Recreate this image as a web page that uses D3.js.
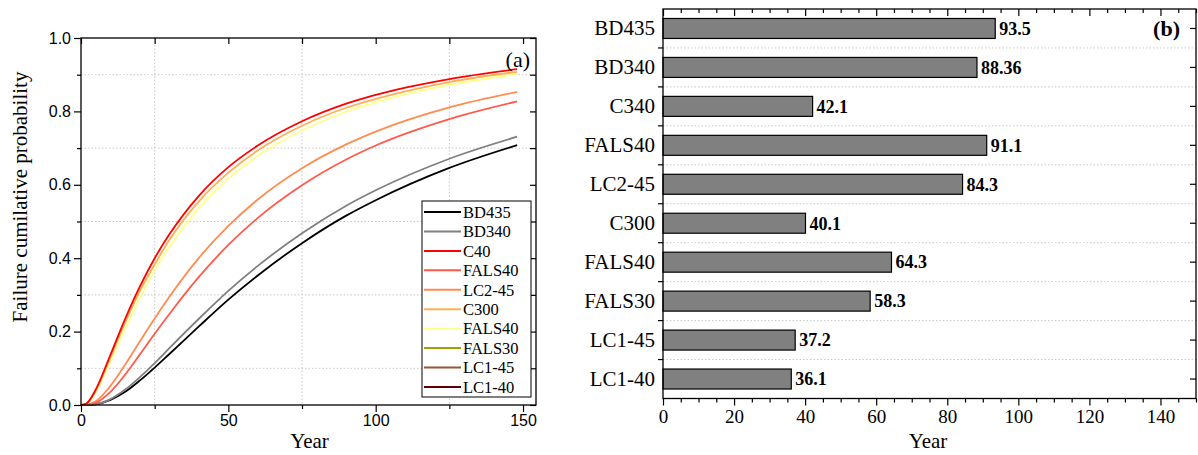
<!DOCTYPE html>
<html><head><meta charset="utf-8">
<script src="https://cdn.jsdelivr.net/npm/d3@7"></script>
<style>
html,body{margin:0;padding:0;background:#fff;}
svg{display:block;}
</style></head>
<body>
<svg id="chart" width="1198" height="455"></svg>
<script>
// ---------- Data: panel (a) ----------
const years   = [0, 2, 5, 10, 15, 20, 25, 30, 40, 50, 60, 75, 90, 100, 125, 148];
const bd435   = [0, 0.0001, 0.002, 0.014, 0.036, 0.067, 0.102, 0.139, 0.214, 0.287, 0.353, 0.441, 0.516, 0.558, 0.646, 0.708];
const bd340   = [0, 0.0001, 0.002, 0.016, 0.042, 0.076, 0.114, 0.155, 0.235, 0.311, 0.379, 0.468, 0.543, 0.585, 0.671, 0.731];
const c40     = [0, 0.005, 0.042, 0.137, 0.235, 0.323, 0.400, 0.465, 0.570, 0.648, 0.707, 0.773, 0.821, 0.845, 0.888, 0.915];
const fals40a = [0, 0.0003, 0.006, 0.036, 0.083, 0.138, 0.194, 0.248, 0.349, 0.436, 0.510, 0.599, 0.669, 0.707, 0.779, 0.827];
const lc245   = [0, 0.0006, 0.010, 0.052, 0.110, 0.174, 0.236, 0.295, 0.401, 0.488, 0.560, 0.645, 0.710, 0.745, 0.811, 0.853];
const c300    = [0, 0.005, 0.039, 0.130, 0.225, 0.311, 0.383, 0.450, 0.555, 0.633, 0.694, 0.761, 0.810, 0.834, 0.880, 0.908];
const fals40b = [0, 0.004, 0.035, 0.119, 0.209, 0.293, 0.367, 0.431, 0.537, 0.617, 0.679, 0.748, 0.799, 0.825, 0.872, 0.902];

const legendNames  = ["BD435", "BD340", "C40", "FALS40", "LC2-45", "C300", "FALS40", "FALS30", "LC1-45", "LC1-40"];
const legendColors = ["#000000", "#808080", "#ff0000", "#ff5a4a", "#ff8c50", "#ffb055", "#ffff8c", "#a0a000", "#a0522d", "#5a0000"];
// series actually plotted (index into legend)
const lineSeries = [
  {idx: 0, values: bd435},
  {idx: 1, values: bd340},
  {idx: 4, values: lc245},
  {idx: 3, values: fals40a},
  {idx: 6, values: fals40b},
  {idx: 5, values: c300},
  {idx: 2, values: c40}
];
const xTicksA = [0, 50, 100, 150];
const xMinorA = [25, 75, 125];
const yTicksA = [0, 0.2, 0.4, 0.6, 0.8, 1.0];
const yMinorA = [0.1, 0.3, 0.5, 0.7, 0.9];

// ---------- Data: panel (b) ----------
const barCategories = ["BD435", "BD340", "C340", "FALS40", "LC2-45", "C300", "FALS40", "FALS30", "LC1-45", "LC1-40"];
const barValues     = [93.5, 88.36, 42.1, 91.1, 84.3, 40.1, 64.3, 58.3, 37.2, 36.1];
const barLabels     = ["93.5", "88.36", "42.1", "91.1", "84.3", "40.1", "64.3", "58.3", "37.2", "36.1"];
const xTicksB = [0, 20, 40, 60, 80, 100, 120, 140];

const svg = d3.select("#chart");
svg.append("rect").attr("width", 1198).attr("height", 455).attr("fill", "#fff");

const serif = "Liberation Serif, Times New Roman, serif";
const sans = "Liberation Sans, Arial, sans-serif";
const gridColor = "#c8c8c8";

function styleAxis(g, font, size, weight) {
  g.select(".domain").remove();
  g.selectAll(".tick line").attr("stroke", "#000").attr("stroke-width", 1.2);
  g.selectAll(".tick text").attr("font-family", font).attr("font-size", size)
    .attr("fill", "#000").attr("font-weight", weight || "normal");
}

// ================= Panel (a) =================
const A = {l: 81, r: 536, t: 38, b: 405};
const xA = d3.scaleLinear().domain([0, 154.4]).range([A.l, A.r]);
const yA = d3.scaleLinear().domain([0, 1]).range([A.b, A.t]);
const gA = svg.append("g");

// grid (at minor positions)
gA.append("g").selectAll("line.vg").data(xMinorA).join("line")
  .attr("x1", d => xA(d)).attr("x2", d => xA(d)).attr("y1", A.t).attr("y2", A.b)
  .attr("stroke", gridColor).attr("stroke-width", 1).attr("stroke-dasharray", "1.5,2");
gA.append("g").selectAll("line.hg").data(yMinorA).join("line")
  .attr("y1", d => yA(d)).attr("y2", d => yA(d)).attr("x1", A.l).attr("x2", A.r)
  .attr("stroke", gridColor).attr("stroke-width", 1).attr("stroke-dasharray", "1.5,2");

// lines
const lineGen = d3.line().curve(d3.curveMonotoneX);
lineSeries.forEach(s => {
  const pts = years.map((t, i) => [xA(t), yA(s.values[i])]);
  gA.append("path").attr("d", lineGen(pts)).attr("fill", "none")
    .attr("stroke", legendColors[s.idx]).attr("stroke-width", 1.8);
});

// axes
gA.append("g").attr("transform", `translate(0,${A.b})`)
  .call(d3.axisBottom(xA).tickValues(xTicksA).tickSize(7).tickPadding(3))
  .call(g => styleAxis(g, sans, 16));
gA.append("g").attr("transform", `translate(0,${A.b})`)
  .call(d3.axisBottom(xA).tickValues(xMinorA).tickSize(4).tickFormat(""))
  .call(g => styleAxis(g, sans, 16));
gA.append("g").attr("transform", `translate(${A.l},0)`)
  .call(d3.axisLeft(yA).tickValues(yTicksA).tickSize(7).tickPadding(3).tickFormat(d3.format(".1f")))
  .call(g => styleAxis(g, sans, 16));
gA.append("g").attr("transform", `translate(${A.l},0)`)
  .call(d3.axisLeft(yA).tickValues(yMinorA).tickSize(4).tickFormat(""))
  .call(g => styleAxis(g, sans, 16));
// top & right inward ticks
gA.append("g").attr("transform", `translate(0,${A.t})`)
  .call(d3.axisTop(xA).tickValues(xTicksA.concat(xMinorA)).tickSize(-6).tickFormat(""))
  .call(g => styleAxis(g, sans, 16));
gA.append("g").attr("transform", `translate(${A.r},0)`)
  .call(d3.axisRight(yA).tickValues(yTicksA.concat(yMinorA)).tickSize(-6).tickFormat(""))
  .call(g => styleAxis(g, sans, 16));

gA.append("rect").attr("x", A.l).attr("y", A.t).attr("width", A.r - A.l).attr("height", A.b - A.t)
  .attr("fill", "none").attr("stroke", "#000").attr("stroke-width", 1.3);

gA.append("text").attr("x", (A.l + A.r) / 2 + 1).attr("y", 448).attr("text-anchor", "middle")
  .attr("font-family", serif).attr("font-size", 21).text("Year");
gA.append("text").attr("transform", `translate(27,197) rotate(-90)`)
  .attr("text-anchor", "middle").attr("font-family", serif).attr("font-size", 21)
  .text("Failure cumilative probability");
gA.append("text").attr("x", 530).attr("y", 67).attr("text-anchor", "end")
  .attr("font-family", serif).attr("font-size", 22).text("(a)");

// legend
const L = {x: 422, y: 201, w: 109, h: 196};
const lg = gA.append("g");
lg.append("rect").attr("x", L.x).attr("y", L.y).attr("width", L.w).attr("height", L.h)
  .attr("fill", "#fff").attr("stroke", "#000").attr("stroke-width", 1);
const ly = d3.scalePoint().domain(d3.range(legendNames.length)).range([L.y + 11, L.y + 186]);
legendNames.forEach((n, i) => {
  lg.append("line").attr("x1", L.x + 2).attr("x2", L.x + 39).attr("y1", ly(i)).attr("y2", ly(i))
    .attr("stroke", legendColors[i]).attr("stroke-width", 2);
  lg.append("text").attr("x", L.x + 41).attr("y", ly(i)).attr("dy", "0.35em")
    .attr("font-family", serif).attr("font-size", 16.5).text(n);
});

// ================= Panel (b) =================
const B = {l: 663, r: 1196, t: 9, b: 398.5};
const xB = d3.scaleLinear().domain([0, 150]).range([B.l, B.r]);
const yB = d3.scaleBand().domain(d3.range(barCategories.length)).range([B.t, B.b])
  .paddingInner(0.487).paddingOuter(0.2435);
const stepB = yB.step();
const gB = svg.append("g");

// horizontal grid between bands
const bounds = d3.range(1, barCategories.length).map(i => B.t + i * stepB);
gB.append("g").selectAll("line").data(bounds).join("line")
  .attr("x1", B.l).attr("x2", B.r).attr("y1", d => d).attr("y2", d => d)
  .attr("stroke", gridColor).attr("stroke-width", 1).attr("stroke-dasharray", "1.5,2");

// bars
gB.append("g").selectAll("rect").data(barValues).join("rect")
  .attr("x", xB(0)).attr("y", (d, i) => yB(i)).attr("width", d => xB(d) - xB(0))
  .attr("height", yB.bandwidth()).attr("fill", "#808080").attr("stroke", "#000").attr("stroke-width", 1.2);
gB.append("g").selectAll("text").data(barValues).join("text")
  .attr("x", d => xB(d) + 4).attr("y", (d, i) => yB(i) + yB.bandwidth() / 2).attr("dy", "0.35em")
  .attr("font-family", serif).attr("font-weight", "bold").attr("font-size", 18)
  .text((d, i) => barLabels[i]);

// axes
const minorB = d3.range(0, 151, 5);
gB.append("g").attr("transform", `translate(0,${B.b})`)
  .call(d3.axisBottom(xB).tickValues(xTicksB).tickSize(7).tickPadding(4))
  .call(g => styleAxis(g, serif, 19));
gB.append("g").attr("transform", `translate(0,${B.b})`)
  .call(d3.axisBottom(xB).tickValues(minorB.filter(v => v % 20 !== 0)).tickSize(4).tickFormat(""))
  .call(g => styleAxis(g, serif, 19));
gB.append("g").attr("transform", `translate(0,${B.t})`)
  .call(d3.axisTop(xB).tickValues(xTicksB).tickSize(-7).tickFormat(""))
  .call(g => styleAxis(g, serif, 19));
gB.append("g").attr("transform", `translate(0,${B.t})`)
  .call(d3.axisTop(xB).tickValues(minorB.filter(v => v % 20 !== 0)).tickSize(-4).tickFormat(""))
  .call(g => styleAxis(g, serif, 19));
// left: category labels at band centers, ticks at boundaries
gB.append("g").attr("transform", `translate(${B.l},0)`)
  .call(d3.axisLeft(yB).tickSize(0).tickPadding(8).tickFormat(i => barCategories[i]))
  .call(g => styleAxis(g, serif, 21));
gB.append("g").selectAll("line").data(bounds).join("line")
  .attr("x1", B.l - 5).attr("x2", B.l).attr("y1", d => d).attr("y2", d => d)
  .attr("stroke", "#000").attr("stroke-width", 1.2);
// right: inward ticks at band centers
gB.append("g").attr("transform", `translate(${B.r},0)`)
  .call(d3.axisRight(yB).tickSize(-6).tickFormat(""))
  .call(g => styleAxis(g, serif, 19));

gB.append("rect").attr("x", B.l).attr("y", B.t).attr("width", B.r - B.l).attr("height", B.b - B.t)
  .attr("fill", "none").attr("stroke", "#000").attr("stroke-width", 1.3);

gB.append("text").attr("x", 928).attr("y", 448).attr("text-anchor", "middle")
  .attr("font-family", serif).attr("font-size", 21).text("Year");
gB.append("text").attr("x", 1180).attr("y", 36).attr("text-anchor", "end")
  .attr("font-family", serif).attr("font-weight", "bold").attr("font-size", 22).text("(b)");
</script>
</body></html>
